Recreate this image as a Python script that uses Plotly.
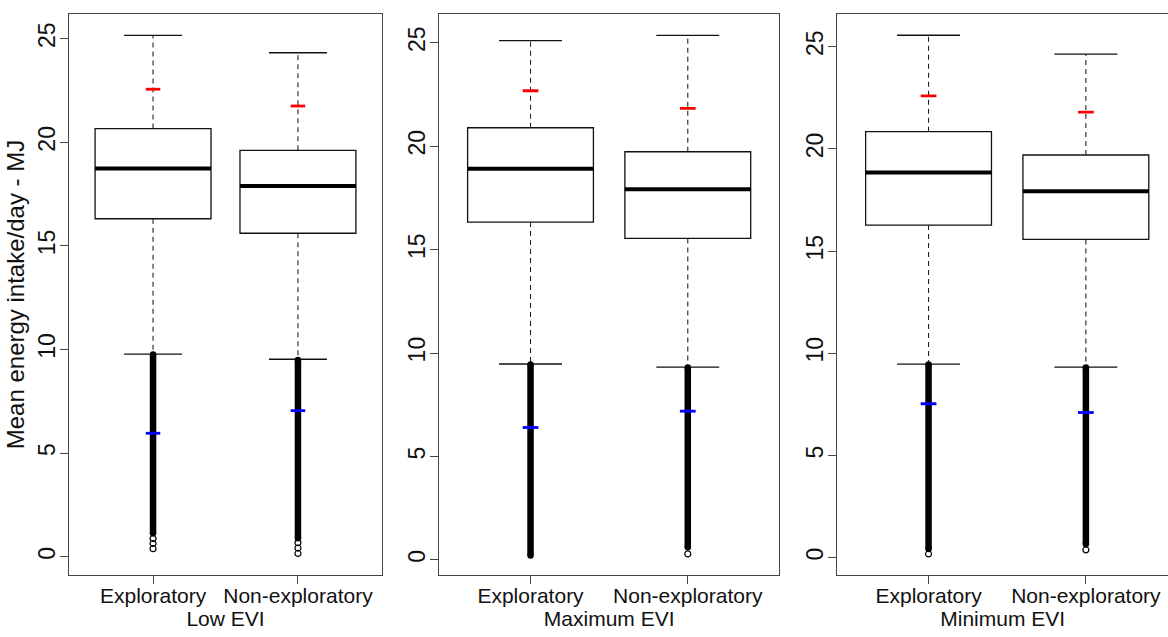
import plotly.graph_objects as go

# ---------------- data ----------------
panels = ["Low EVI", "Maximum EVI", "Minimum EVI"]
categories = ["Exploratory", "Non-exploratory"]
y_ticks = [0, 5, 10, 15, 20, 25]

upper_whisker = [[25.16, 24.32], [25.10, 25.36], [25.56, 24.64]]
red_mark = [[22.56, 21.75], [22.68, 21.83], [22.59, 21.80]]
q3 = [[20.66, 19.61], [20.89, 19.73], [20.84, 19.70]]
median = [[18.73, 17.89], [18.91, 17.92], [18.85, 17.93]]
q1 = [[16.31, 15.61], [16.33, 15.54], [16.27, 15.57]]
lower_whisker = [[9.78, 9.53], [9.47, 9.32], [9.47, 9.32]]
blue_mark = [[5.96, 7.05], [6.40, 7.19], [7.53, 7.10]]
# dense outlier band (top, bottom) and the separate outliers below it
outlier_band_top = [[9.76, 9.50], [9.45, 9.30], [9.45, 9.30]]
outlier_band_bottom = [[1.13, 0.89], [0.21, 0.61], [0.42, 0.67]]
outlier_sparse = [[[0.88, 0.64, 0.39], [0.68, 0.42, 0.16]],
                  [[], [0.29]],
                  [[0.18], [0.38]]]

# ---------------- layout constants ----------------
W, H = 1168, 637
FONT = "Liberation Sans, Arial, sans-serif"
x_domains = [[69 / W, 382 / W], [439.3 / W, 779 / W], [837.3 / W, 1.0]]
y_domain = [1 - 575 / H, 1 - 14 / H]
y_ranges = [[-0.88, 26.19], [-0.73, 26.39], [-0.85, 26.60]]
x_ranges = [[0.42, 2.58], [0.42, 2.58], [0.42, 2.522]]
BOXW = 0.8
CAPW = 0.4
MARKW = 0.1
positions = [1, 2]

fig = go.Figure()

for p in range(3):
    xa = "x" if p == 0 else f"x{p+1}"
    ya = "y" if p == 0 else f"y{p+1}"
    # boxes
    for i, c in enumerate(positions):
        fig.add_trace(go.Box(
            x=[c], q1=[q1[p][i]], median=[median[p][i]], q3=[q3[p][i]],
            lowerfence=[q1[p][i]], upperfence=[q3[p][i]],
            width=BOXW, whiskerwidth=0, boxpoints=False,
            fillcolor="white", line=dict(color="#111", width=1.3),
            xaxis=xa, yaxis=ya, showlegend=False, hoverinfo="skip"))
    # dashed whiskers
    wx, wy = [], []
    for i, c in enumerate(positions):
        wx += [c, c, None, c, c, None]
        wy += [q3[p][i], upper_whisker[p][i], None, q1[p][i], lower_whisker[p][i], None]
    fig.add_trace(go.Scatter(x=wx, y=wy, mode="lines",
                             line=dict(color="#222", width=1.1, dash="5px,4px"),
                             xaxis=xa, yaxis=ya, showlegend=False, hoverinfo="skip"))
    # whisker caps
    cx, cy = [], []
    for i, c in enumerate(positions):
        for v in (upper_whisker[p][i], lower_whisker[p][i]):
            cx += [c - CAPW / 2, c + CAPW / 2, None]
            cy += [v, v, None]
    fig.add_trace(go.Scatter(x=cx, y=cy, mode="lines",
                             line=dict(color="#111", width=1.3),
                             xaxis=xa, yaxis=ya, showlegend=False, hoverinfo="skip"))
    # thick medians
    mx, my = [], []
    for i, c in enumerate(positions):
        mx += [c - BOXW / 2, c + BOXW / 2, None]
        my += [median[p][i], median[p][i], None]
    fig.add_trace(go.Scatter(x=mx, y=my, mode="lines",
                             line=dict(color="black", width=4),
                             xaxis=xa, yaxis=ya, showlegend=False, hoverinfo="skip"))
    # outlier bands
    ox, oy = [], []
    for i, c in enumerate(positions):
        ox += [c, c, None]
        oy += [outlier_band_top[p][i], outlier_band_bottom[p][i], None]
    fig.add_trace(go.Scatter(x=ox, y=oy, mode="lines+markers",
                             line=dict(color="black", width=6.5),
                             marker=dict(symbol="circle", size=6.5, color="black"),
                             xaxis=xa, yaxis=ya, showlegend=False, hoverinfo="skip"))
    # sparse outliers
    sx, sy = [], []
    for i, c in enumerate(positions):
        for v in outlier_sparse[p][i]:
            sx.append(c)
            sy.append(v)
    if sx:
        fig.add_trace(go.Scatter(x=sx, y=sy, mode="markers",
                                 marker=dict(symbol="circle-open", size=6,
                                             color="black", line=dict(width=1.2)),
                                 xaxis=xa, yaxis=ya, showlegend=False, hoverinfo="skip"))
    # red and blue marks
    for vals, col in ((red_mark, "#ff0000"), (blue_mark, "#0000ff")):
        rx, ry = [], []
        for i, c in enumerate(positions):
            rx += [c - MARKW / 2, c + MARKW / 2, None]
            ry += [vals[p][i], vals[p][i], None]
        fig.add_trace(go.Scatter(x=rx, y=ry, mode="lines",
                                 line=dict(color=col, width=2.8),
                                 xaxis=xa, yaxis=ya, showlegend=False, hoverinfo="skip"))

x_font = dict(family=FONT, size=21, color="#111")
y_font = dict(family=FONT, size=23, color="#111")
for p in range(3):
    xkey = "xaxis" if p == 0 else f"xaxis{p+1}"
    ykey = "yaxis" if p == 0 else f"yaxis{p+1}"
    yanchor = "y" if p == 0 else f"y{p+1}"
    xanchor = "x" if p == 0 else f"x{p+1}"
    fig.layout[xkey] = dict(
        domain=x_domains[p], range=x_ranges[p], anchor=yanchor,
        tickvals=positions, ticktext=categories, tickfont=x_font,
        ticks="outside", ticklen=8, tickwidth=1.2, tickcolor="#444",
        ticklabelstandoff=-6,
        showline=True, mirror=True, linecolor="#444", linewidth=1.4,
        showgrid=False, zeroline=False,
        title=dict(text=panels[p], font=x_font, standoff=0))
    fig.layout[ykey] = dict(
        domain=y_domain, range=y_ranges[p], anchor=xanchor,
        tickvals=y_ticks, tickangle=-90, tickfont=y_font,
        ticks="outside", ticklen=8, tickwidth=1.2, tickcolor="#444",
        ticklabelstandoff=-4,
        showline=True, mirror=(p < 2), linecolor="#444", linewidth=1.4,
        showgrid=False, zeroline=False)

fig.layout["yaxis"]["title"] = dict(text="Mean energy intake/day - MJ",
                                    font=dict(family=FONT, size=24, color="#111"),
                                    standoff=2)

fig.update_layout(width=W, height=H, margin=dict(l=0, r=0, t=0, b=0),
                  paper_bgcolor="white", plot_bgcolor="white",
                  font=dict(family=FONT), boxmode="overlay", showlegend=False)

fig.write_html("out.html")
